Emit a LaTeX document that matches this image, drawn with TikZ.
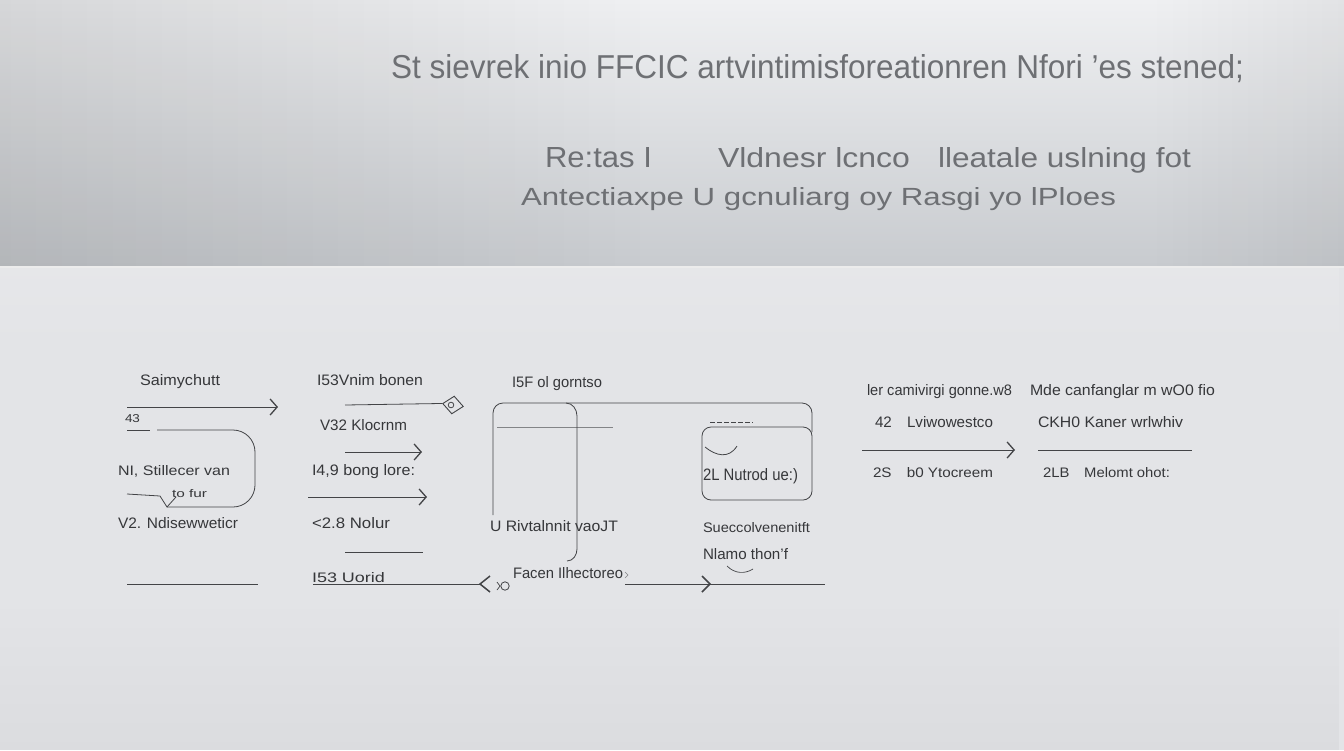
\documentclass[tikz,border=0pt]{standalone}
\usepackage{fontspec}
\setmainfont{Liberation Sans}
\usetikzlibrary{arrows.meta,shapes.geometric,fadings}
\definecolor{bgtop}{HTML}{EFF0F2}
\definecolor{bgmid}{HTML}{E3E4E7}
\definecolor{bgbot}{HTML}{C8CBCF}
\definecolor{bglow}{HTML}{E3E4E7}
\definecolor{headink}{HTML}{6E7074}
\definecolor{ink}{HTML}{36373A}
\definecolor{lineink}{HTML}{434447}
\newcommand{\fx}[3]{\resizebox{#1pt}{#2pt}{#3}}
\tikzset{
  txt/.style={anchor=base west, inner sep=0pt, outer sep=0pt, text=ink},
  head/.style={anchor=base west, inner sep=0pt, outer sep=0pt, text=headink},
  ln/.style={draw=lineink, line width=0.8pt},
  chev/.style={-{Straight Barb[length=7pt,width=16pt,line width=1.3pt]}},
}
\begin{document}
\begin{tikzpicture}[x=1pt,y=1pt]
\useasboundingbox (0,0) rectangle (1344,-750);
% background
\fill[bglow] (0,0) rectangle (1344,-750);
\shade[top color=bgtop, middle color=bgmid, bottom color=bgbot] (0,0) rectangle (1344,-266);
\fill[black, opacity=0.10, path fading=east] (0,0) rectangle (650,-266);
\fill[black, opacity=0.05, path fading=west] (1150,0) rectangle (1344,-266);
\draw[white!85!gray, line width=1.5pt] (0,-267) -- (1344,-267);
\fill[white, opacity=0.12, path fading=south] (0,-268) rectangle (1344,-360);
\fill[black, opacity=0.03, path fading=north] (0,-600) rectangle (1344,-750);

% header text
\node[head] (title) at (391,-78) {\fx{853}{24}{St sievrek inio FFCIC artvintimisforeationren Nfori 'es stened;}};
\node[head] (s1) at (545,-167) {\fx{107}{20}{Re:tas I}};
\node[head] (s2) at (718,-167) {\fx{192}{20}{Vldnesr lcnco}};
\node[head] (s3) at (938,-167) {\fx{253}{20}{lleatale uslning fot}};
\node[head] (s4) at (521,-205) {\fx{595}{18}{Antectiaxpe U gcnuliarg oy Rasgi yo lPloes}};

% column 1
\node[txt] (a1) at (140,-385) {\fx{80}{11}{Saimychutt}};
\node[txt] (a2) at (125,-422) {\fx{15}{8}{43}};
\node[txt] (a3) at (118,-475) {\fx{112}{10}{NI, Stillecer van}};
\node[txt] (a4) at (172,-497) {\fx{35}{8}{to fur}};
\node[txt] (a5) at (118,-528) {\fx{120}{11}{V2. Ndisewweticr}};
\coordinate (a1s) at (127,-407); \coordinate (a1e) at (278,-407);
\draw[ln,chev] (a1s) -- (a1e);
\coordinate (lp0) at (127,-430); \coordinate (lp1) at (150,-430);
\coordinate (lp2) at (157,-430);
\draw[ln] (lp0) -- (lp1);
\draw[ln, rounded corners=22pt] (lp2) -- (255,-430) -- (255,-507) -- (167,-507);
\coordinate (lq0) at (127,-494);
\draw[ln] (lq0) -- (160,-496) -- (167,-507) -- (176,-497);
\coordinate (a6s) at (127,-584); \coordinate (a6e) at (258,-584);
\draw[ln] (a6s) -- (a6e);

% column 2
\node[txt] (b1) at (317,-385) {\fx{106}{11}{I53Vnim bonen}};
\node[txt] (b2) at (320,-430) {\fx{87}{11}{V32 Klocrnm}};
\node[txt] (b3) at (312,-475) {\fx{103}{11}{I4,9 bong lore:}};
\node[txt] (b4) at (312,-528) {\fx{78}{11}{<2.8 Nolur}};
\node[txt] (b5) at (312,-582) {\fx{73}{10}{I53 Uorid}};
\node[draw=lineink, line width=0.9pt, diamond, minimum width=21pt, minimum height=18pt, inner sep=0pt, rotate=-8] (dm) at (453,-405) {};
\draw[lineink, line width=0.8pt] (451,-405) circle (2.8pt);
\coordinate (b1s) at (345,-405);
\draw[ln] (b1s) -- (dm.west);
\coordinate (b2s) at (345,-452); \coordinate (b2e) at (422,-452);
\draw[ln,chev] (b2s) -- (b2e);
\coordinate (b3s) at (308,-497); \coordinate (b3e) at (427,-497);
\draw[ln,chev] (b3s) -- (b3e);
\coordinate (b4s) at (345,-552); \coordinate (b4e) at (423,-552);
\draw[ln] (b4s) -- (b4e);
\coordinate (b5s) at (313,-584); \coordinate (b5e) at (480,-584);
\draw[ln] (b5s) -- (b5e);
\draw[lineink, line width=1.5pt] (490,-576) -- (b5e) -- (490,-592);
\draw[lineink, line width=0.8pt] (505,-586) circle (4.2pt);
\draw[lineink, line width=0.7pt] (497,-582) -- (500,-586) -- (497,-590);

% column 3
\node[txt] (c1) at (512,-387) {\fx{90}{11}{I5F ol gorntso}};
\node[txt] (c2) at (703,-480) {\fx{95}{12}{2L Nutrod ue:)}};
\node[txt] (c3) at (490,-531) {\fx{128}{11}{U Rivtalnnit vaoJT}};
\node[txt] (c4) at (703,-532) {\fx{107}{10}{Sueccolvenenitft}};
\node[txt] (c5) at (703,-559) {\fx{85}{11}{Nlamo thon'f}};
\node[txt] (c6) at (513,-578) {\fx{110}{11}{Facen Ilhectoreo}};
\draw[ln, rounded corners=10pt] (493,-515) -- (493,-403) -- (812,-403) -- (812,-432);
\draw[ln] (566,-403) to[out=0,in=90] (577,-416) -- (577,-549) to[out=-90,in=0] (567,-561);
\draw[lineink, line width=0.6pt, opacity=0.6] (497,-427) -- (613,-427);
\draw[ln, rounded corners=9pt] (702,-427) rectangle (812,-500);
\draw[lineink, line width=0.8pt, dash pattern=on 5pt off 2pt] (710,-422) -- (753,-422);
\draw[ln] (705,-447) .. controls (716,-456) and (729,-459) .. (737,-446);
\draw[lineink, line width=0.6pt, opacity=0.6] (625,-572) -- (628,-575) -- (625,-578);
\draw[lineink, line width=0.7pt] (727,-566) .. controls (735,-574) and (745,-574) .. (753,-569);
\coordinate (c7s) at (625,-584); \coordinate (c7e) at (825,-584);
\draw[ln] (c7s) -- (c7e);
\draw[lineink, line width=1.5pt] (702,-576) -- (710,-584) -- (702,-592);

% right columns
\node[txt] (d1) at (867,-395) {\fx{145}{11}{ler camivirgi gonne.w8}};
\node[txt] (d2) at (1030,-395) {\fx{185}{11}{Mde canfanglar m wO0 fio}};
\node[txt] (d3) at (875,-427) {\fx{118}{11}{42\quad Lviwowestco}};
\node[txt] (d4) at (1038,-427) {\fx{145}{11}{CKH0 Kaner wrlwhiv}};
\node[txt] (d5) at (873,-477) {\fx{120}{10}{2S\quad b0 Ytocreem}};
\node[txt] (d6) at (1043,-477) {\fx{127}{10}{2LB\quad Melomt ohot:}};
\coordinate (d7s) at (862,-450); \coordinate (d7e) at (1015,-450);
\draw[ln,chev] (d7s) -- (d7e);
\coordinate (d8s) at (1038,-450); \coordinate (d8e) at (1192,-450);
\draw[ln] (d8s) -- (d8e);
\end{tikzpicture}
\end{document}
